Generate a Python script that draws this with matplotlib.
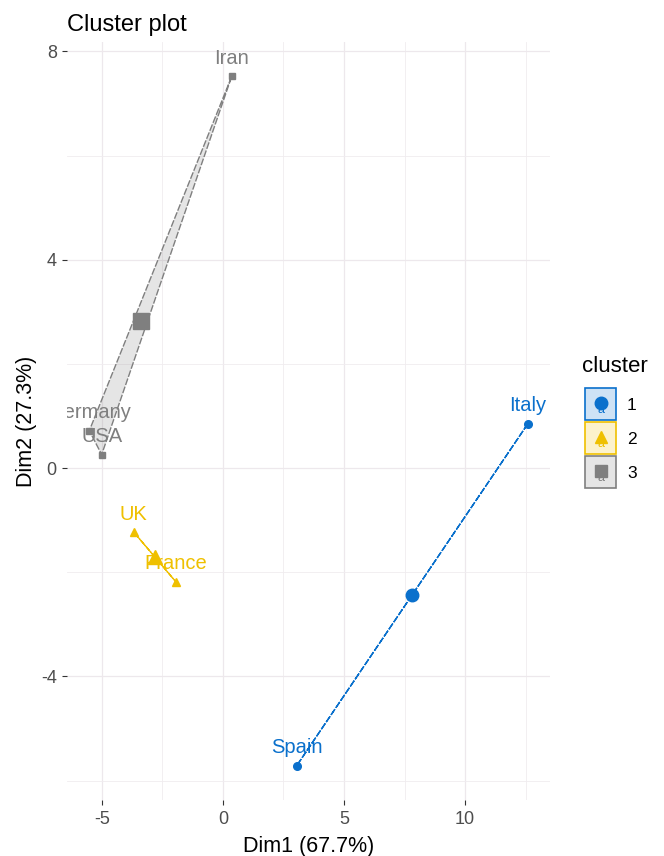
# k-means cluster plot on the first two principal dimensions

import numpy as np
import matplotlib.pyplot as plt
from matplotlib.patches import Rectangle

plt.rcParams['font.family'] = ['Liberation Sans', 'DejaVu Sans']
plt.rcParams['axes.unicode_minus'] = False

# Country coordinates on Dim1 / Dim2 and their cluster
countries = ["Iran", "Germany", "USA", "UK", "France", "Italy", "Spain"]
dim1 = [0.36, -5.52, -5.01, -3.68, -1.95, 12.59, 3.05]
dim2 = [7.52, 0.72, 0.26, -1.23, -2.18, 0.85, -5.71]
cluster = [3, 3, 3, 2, 2, 1, 1]

cluster_ids = [1, 2, 3]
colors = {1: "#0A70CC", 2: "#EFC000", 3: "#7F7F7F"}
markers = {1: "o", 2: "^", 3: "s"}
x_ticks = [-5, 0, 5, 10]
y_ticks = [-4, 0, 4, 8]

x = np.array(dim1)
y = np.array(dim2)
cl = np.array(cluster)

fig = plt.figure(figsize=(6.64, 8.56), dpi=100)
ax = fig.add_axes([67.4 / 664, 56 / 856, 482.3 / 664, 758 / 856])

# ggplot style 5% expansion
xr = x.max() - x.min()
yr = y.max() - y.min()
ax.set_xlim(x.min() - 0.05 * xr, x.max() + 0.05 * xr)
ax.set_ylim(y.min() - 0.05 * yr, y.max() + 0.05 * yr)

ax.set_xticks(x_ticks)
ax.set_yticks(y_ticks)
ax.set_xticks([-2.5, 2.5, 7.5, 12.5], minor=True)
ax.set_yticks([-6, -2, 2, 6], minor=True)
ax.grid(True, which='major', color='#EDE8EC', lw=0.9)
ax.grid(True, which='minor', color='#F0ECEF', lw=0.6)
ax.set_axisbelow(True)
for s in ax.spines.values():
    s.set_visible(False)
ax.tick_params(which='major', length=3.6, width=0.8, color='#333333',
               labelsize=13, labelcolor='#4D4D4D', pad=4)
ax.tick_params(which='minor', length=0)

# hulls
for k in cluster_ids:
    m = cl == k
    ax.fill(x[m], y[m], facecolor=colors[k], alpha=0.2, zorder=1)
    ax.fill(x[m], y[m], facecolor='none', edgecolor=colors[k], lw=1.0,
            linestyle=(0, (5, 1.2)), zorder=2)

# individual points
for k in cluster_ids:
    m = cl == k
    ms = {1: 5.5, 2: 6, 3: 4.6}[k]
    ax.plot(x[m], y[m], linestyle='none', marker=markers[k], ms=ms,
            color=colors[k], zorder=3)

# country labels
for name, xi, yi, k in zip(countries, x, y, cl):
    ax.annotate(name, (xi, yi), xytext=(0, 13), textcoords='offset points',
                ha='center', va='center', fontsize=14.5, color=colors[k],
                clip_on=True, zorder=4)

# cluster centres
for k in cluster_ids:
    m = cl == k
    ms = {1: 9, 2: 10.5, 3: 11.5}[k]
    ax.plot(x[m].mean(), y[m].mean(), marker=markers[k], ms=ms,
            color=colors[k], zorder=5)

ax.set_xlabel("Dim1 (67.7%)", fontsize=15.5, color='black', labelpad=6)
ax.set_ylabel("Dim2 (27.3%)", fontsize=15.5, color='black', labelpad=3)
ax.set_title("Cluster plot", loc='left', fontsize=17, pad=8)

# legend drawn in pixel coordinates
lg = fig.add_axes([0, 0, 1, 1], facecolor='none')
lg.set_xlim(0, 664)
lg.set_ylim(856, 0)
lg.axis('off')
lg.text(582, 366, "cluster", fontsize=16, ha='left', va='center')
fills = {1: "#CEE2F5", 2: "#FCF2CC", 3: "#E5E5E5"}
for i, k in enumerate(cluster_ids):
    top = 388 + i * 34
    lg.add_patch(Rectangle((585, top), 31, 32, facecolor=fills[k],
                           edgecolor=colors[k], lw=1.2))
    lg.text(601, top + 22, "a", fontsize=9, color=colors[k],
            ha='center', va='center')
    lg.plot(600.5, top + 15, marker=markers[k], ms=9, color=colors[k])
    lg.text(627, top + 17, str(k), fontsize=12.5, ha='left', va='center')

fig.savefig("out.png", dpi=100)
